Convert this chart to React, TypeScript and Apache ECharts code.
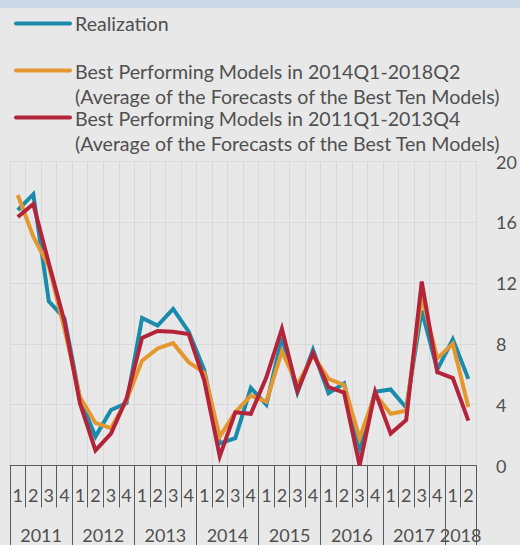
import React, { useEffect, useRef } from "react";
import * as echarts from "echarts";

const quarters: string[] = [
  "1", "2", "3", "4", "1", "2", "3", "4", "1", "2", "3", "4", "1", "2", "3", "4",
  "1", "2", "3", "4", "1", "2", "3", "4", "1", "2", "3", "4", "1", "2",
];
const years: string[] = ["2011", "2012", "2013", "2014", "2015", "2016", "2017", "2018"];
const quartersPerYear: number[] = [4, 4, 4, 4, 4, 4, 4, 2];

const realization: number[] = [
  16.8, 17.85, 10.8, 9.7,
  4.4, 1.9, 3.65, 4.1,
  9.7, 9.2, 10.3, 8.8,
  6.3, 1.45, 1.8, 5.1,
  4.0, 8.4, 4.8, 7.6,
  4.75, 5.4, 1.2, 4.85,
  5.0, 3.8, 10.2, 6.3,
  8.3, 5.7,
];
const best2014to2018: number[] = [
  17.8, 15.05, 13.1, 9.0,
  4.5, 2.8, 2.45, 4.3,
  6.9, 7.7, 8.05, 6.8,
  6.1, 1.9, 3.5, 4.6,
  4.2, 7.5, 5.3, 7.25,
  5.7, 5.3, 1.8, 4.7,
  3.4, 3.6, 11.1, 7.05,
  8.0, 3.85,
];
const best2011to2013: number[] = [
  16.35, 17.2, 13.3, 9.5,
  4.1, 1.0, 2.1, 4.4,
  8.4, 8.85, 8.8, 8.65,
  5.6, 0.6, 3.5, 3.4,
  5.8, 9.0, 4.9, 7.4,
  5.15, 4.8, 0.0, 4.85,
  2.1, 3.0, 12.1, 6.15,
  5.75, 2.95,
];

const seriesNames: string[] = [
  "Realization",
  "Best Performing Models in 2014Q1-2018Q2",
  "Best Performing Models in 2011Q1-2013Q4",
];
const legendSubtitle = "(Average of the Forecasts of the Best Ten Models)";
const colors: string[] = ["#1a8cab", "#e4972f", "#b3243a"];

const FONT = "Lato";
const TEXT_COLOR = "#505050";

export default function App() {
  const ref = useRef<HTMLDivElement>(null);

  useEffect(() => {
    if (!ref.current) return;
    const chart = echarts.init(ref.current, undefined, { renderer: "svg" });

    const totalQ = quarters.length;
    const yearAxisData: string[] = new Array(totalQ * 2 + 1).fill("");
    const yearTickIdx = new Set<number>([0]);
    let start = 0;
    years.forEach((y, i) => {
      const n = quartersPerYear[i];
      yearAxisData[start * 2 + n] = y;
      start += n;
      yearTickIdx.add(start * 2);
    });
    const yearLabelIdx = new Set<number>();
    yearAxisData.forEach((v, i) => {
      if (v) yearLabelIdx.add(i);
    });

    const dataSets = [realization, best2014to2018, best2011to2013];

    const legendGraphics: any[] = [];
    const legendRows = [
      { lineY: 23.5, texts: [{ t: seriesNames[0], y: 23.5 }] },
      { lineY: 70.5, texts: [{ t: seriesNames[1], y: 71.5 }, { t: legendSubtitle, y: 96 }] },
      { lineY: 117.5, texts: [{ t: seriesNames[2], y: 118.3 }, { t: legendSubtitle, y: 143.3 }] },
    ];
    legendRows.forEach((row, i) => {
      legendGraphics.push({
        type: "line",
        shape: { x1: 16, y1: row.lineY, x2: 70, y2: row.lineY },
        style: { stroke: colors[i], lineWidth: 4, lineCap: "round" },
      });
      row.texts.forEach((tx) => {
        legendGraphics.push({
          type: "text",
          x: 75,
          y: tx.y,
          style: {
            text: tx.t,
            fill: TEXT_COLOR,
            font: `19.6px ${FONT}`,
            textAlign: "left",
            textVerticalAlign: "middle",
          },
        });
      });
    });

    chart.setOption({
      animation: false,
      backgroundColor: "#e8e8e8",
      graphic: [
        {
          type: "rect",
          shape: { x: 0, y: 0, width: 520, height: 8 },
          style: { fill: "#cbd8e6" },
        },
        ...legendGraphics,
      ],
      grid: { left: 10, right: 43, top: 161.5, bottom: 79.5 },
      xAxis: [
        {
          type: "category",
          data: quarters,
          boundaryGap: true,
          axisLine: { show: true, lineStyle: { color: "#5a5a5a", width: 1 } },
          axisTick: { show: true, interval: 0, length: 42, lineStyle: { color: "#5a5a5a" } },
          axisLabel: {
            interval: 0,
            color: TEXT_COLOR,
            fontFamily: FONT,
            fontSize: 18,
            margin: 20,
          },
          splitLine: { show: true, interval: 0, lineStyle: { color: "#d9d9d9", width: 1 } },
        },
        {
          type: "category",
          data: yearAxisData,
          boundaryGap: false,
          position: "bottom",
          axisLine: { show: false },
          axisTick: {
            show: true,
            length: 80,
            interval: (idx: number) => yearTickIdx.has(idx),
            lineStyle: { color: "#5a5a5a" },
          },
          axisLabel: {
            interval: (idx: number) => yearLabelIdx.has(idx),
            color: TEXT_COLOR,
            fontFamily: FONT,
            fontSize: 18,
            margin: 60,
          },
          splitLine: { show: false },
        },
      ],
      yAxis: {
        type: "value",
        position: "right",
        min: 0,
        max: 20,
        interval: 4,
        axisLine: { show: false },
        axisTick: { show: false },
        axisLabel: {
          color: TEXT_COLOR,
          fontFamily: FONT,
          fontSize: 18,
          margin: 20,
          align: "left",
        },
        splitLine: { show: true, lineStyle: { color: "#d9d9d9", width: 1 } },
      },
      series: dataSets.map((d, i) => ({
        name: seriesNames[i],
        type: "line",
        xAxisIndex: 0,
        data: d,
        symbol: "none",
        lineStyle: { color: colors[i], width: 4, join: "miter" },
        itemStyle: { color: colors[i] },
        z: 2 + i,
      })),
    });

    return () => chart.dispose();
  }, []);

  return (
    <div
      ref={ref}
      style={{ width: 520, height: 545, position: "absolute", left: 0, top: 0 }}
    />
  );
}
